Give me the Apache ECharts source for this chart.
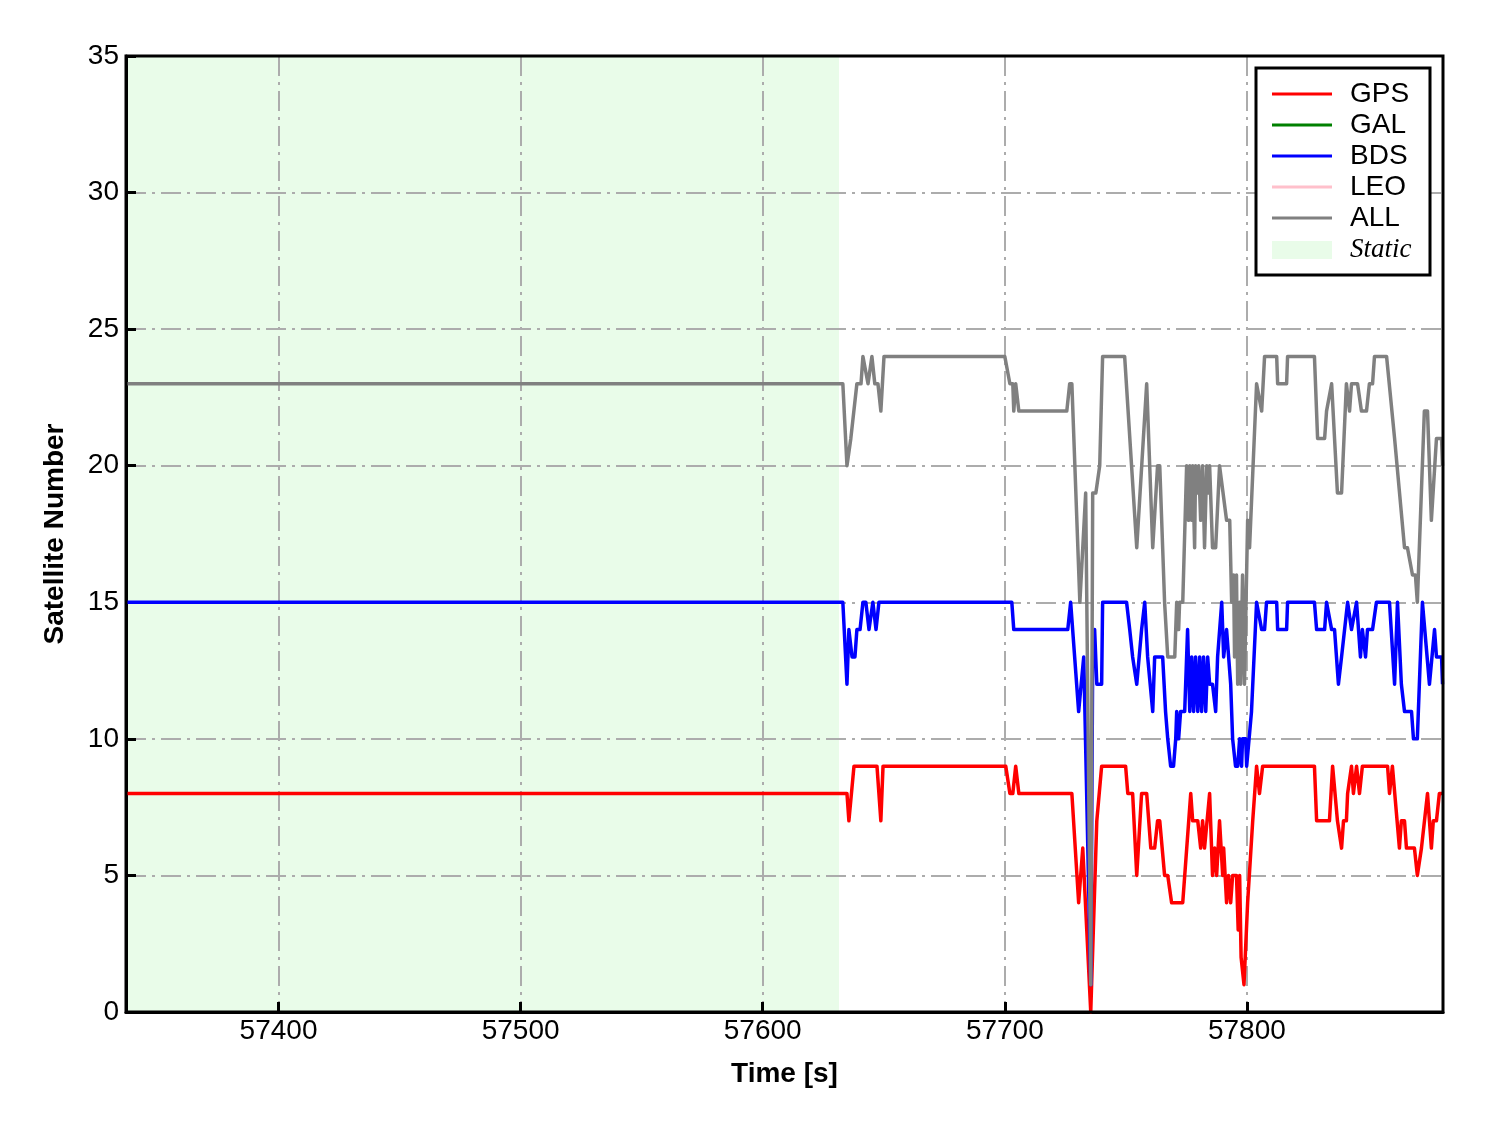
<!DOCTYPE html>
<html>
<head>
<meta charset="utf-8">
<script src="https://cdn.jsdelivr.net/npm/echarts@6/dist/echarts.min.js"></script>
<style>
html,body{margin:0;padding:0;background:#fff;}
#chart{width:1488px;height:1133px;}
</style>
</head>
<body>
<div id="chart"></div>
<script>
// ---- data: [time (s), satellite count] breakpoints ----
const timeMin = 57337;
const timeMax = 57881;
const staticEnd = 57631.5;
const yTicks = { min: 0, max: 35, step: 5 };

const gpsData = [[57337,8],[57634.8,8],[57635.6,7],[57637.7,9],[57647.2,9],[57648.8,7],[57649.7,9],[57700.4,9],[57702.1,8],[57703.3,8],[57704.5,9],[57705.8,8],[57727.7,8],[57730.5,4],[57732.2,6],[57735.5,0],[57738.0,7],[57740.0,9],[57749.9,9],[57750.8,8],[57752.8,8],[57754.5,5],[57756.5,8],[57758.6,8],[57760.3,6],[57761.9,6],[57763.1,7],[57764.0,7],[57766.0,5],[57767.3,5],[57768.9,4],[57773.5,4],[57776.8,8],[57777.6,7],[57779.7,7],[57780.9,6],[57781.7,7],[57782.5,6],[57784.6,8],[57785.8,5],[57786.7,6],[57787.5,5],[57788.7,7],[57790.0,5],[57790.4,6],[57791.6,4],[57792.4,5],[57793.3,4],[57794.1,5],[57795.7,5],[57796.4,3],[57797.0,5],[57797.6,2],[57798.8,1],[57800.3,4],[57802.4,7],[57804.0,9],[57805.2,8],[57806.5,9],[57827.9,9],[57828.8,7],[57834.1,7],[57835.4,9],[57837.4,7],[57839.1,6],[57839.9,7],[57841.1,7],[57841.6,8],[57843.2,9],[57844.0,8],[57845.3,9],[57846.5,8],[57847.7,9],[57858.1,9],[57858.9,8],[57860.1,9],[57863.0,6],[57863.8,7],[57865.1,7],[57865.9,6],[57869.2,6],[57870.4,5],[57872.1,6],[57874.6,8],[57876.2,6],[57877.0,7],[57878.3,7],[57879.5,8],[57880.8,8]];

const galData = [];

const bdsData = [[57337,15],[57633.1,15],[57634.8,12],[57635.6,14],[57636.9,13],[57638.1,13],[57638.9,14],[57640.2,14],[57641.4,15],[57642.6,15],[57643.9,14],[57644.7,14],[57645.5,15],[57646.8,14],[57648.0,15],[57702.9,15],[57703.7,14],[57726.0,14],[57727.2,15],[57730.5,11],[57732.6,13],[57735.5,1],[57736.3,13],[57737.1,14],[57738.0,12],[57740.0,12],[57740.4,15],[57750.3,15],[57751.6,14],[57752.8,13],[57753.2,13],[57754.5,12],[57756.5,14],[57757.8,15],[57759.0,13],[57761.1,11],[57761.9,13],[57765.2,13],[57766.4,11],[57767.3,10],[57768.5,9],[57769.7,9],[57770.6,10],[57771.0,11],[57771.8,10],[57772.6,11],[57774.3,11],[57775.5,14],[57776.4,11],[57777.2,13],[57778.0,11],[57778.8,13],[57779.7,11],[57780.5,13],[57781.3,11],[57782.1,13],[57783.0,11],[57783.8,13],[57784.6,12],[57785.8,12],[57787.1,11],[57787.9,13],[57789.6,15],[57790.4,13],[57791.6,14],[57793.3,12],[57794.1,10],[57795.3,9],[57796.2,9],[57797.0,10],[57797.8,9],[57798.2,10],[57799.5,10],[57799.9,9],[57801.9,11],[57804.0,15],[57806.1,14],[57807.3,14],[57808.1,15],[57812.3,15],[57812.7,14],[57816.4,14],[57816.8,15],[57827.9,15],[57828.8,14],[57832.1,14],[57832.9,15],[57835.0,14],[57836.2,14],[57837.8,12],[57839.1,13],[57839.9,13],[57841.6,15],[57843.2,14],[57843.6,14],[57845.3,15],[57846.9,13],[57847.7,14],[57849.0,13],[57849.8,14],[57851.9,14],[57853.5,15],[57858.9,15],[57861.0,12],[57862.2,15],[57863.8,12],[57865.1,11],[57868.0,11],[57868.8,10],[57870.4,10],[57872.5,15],[57875.4,12],[57877.5,14],[57878.3,13],[57880.4,13],[57880.8,12]];

const leoData = [];

const allData = [[57337,23],[57633.1,23],[57634.8,20],[57636.4,21],[57638.9,23],[57640.6,23],[57641.4,24],[57643.5,23],[57645.1,24],[57646.3,23],[57647.6,23],[57648.8,22],[57650.1,24],[57700.0,24],[57702.1,23],[57703.3,23],[57703.7,22],[57704.5,23],[57705.8,22],[57725.6,22],[57726.8,23],[57727.7,23],[57731.0,15],[57733.4,19],[57735.5,1],[57736.3,19],[57737.6,19],[57739.2,20],[57740.4,24],[57749.5,24],[57754.5,17],[57758.6,23],[57761.1,17],[57763.1,20],[57764.0,20],[57766.0,15],[57767.3,13],[57768.9,13],[57770.2,13],[57771.0,15],[57771.8,14],[57772.2,15],[57773.5,15],[57775.1,20],[57775.9,18],[57776.4,20],[57777.2,18],[57777.6,20],[57778.4,17],[57778.8,20],[57779.7,19],[57780.1,20],[57780.9,18],[57781.7,20],[57782.5,17],[57783.4,20],[57784.2,19],[57784.6,20],[57785.8,17],[57787.1,17],[57788.7,20],[57791.6,18],[57792.9,18],[57793.7,15],[57794.5,16],[57794.9,13],[57795.7,16],[57796.2,12],[57797.0,15],[57797.4,12],[57798.2,16],[57799.0,12],[57800.3,18],[57801.1,17],[57801.9,17],[57804.0,23],[57806.1,22],[57807.3,24],[57812.3,24],[57812.7,23],[57816.4,23],[57816.8,24],[57827.9,24],[57829.2,21],[57832.1,21],[57832.9,22],[57835.0,23],[57837.4,19],[57839.1,19],[57841.1,23],[57842.4,22],[57843.2,23],[57845.7,23],[57847.3,22],[57849.4,22],[57850.6,23],[57851.9,23],[57852.7,24],[57857.7,24],[57861.0,21],[57861.8,21],[57865.1,17],[57866.3,17],[57868.4,16],[57869.6,16],[57870.4,15],[57873.3,22],[57874.6,22],[57876.2,18],[57878.3,21],[57880.4,21],[57880.8,20]];

const seriesNames = ['GPS', 'GAL', 'BDS', 'LEO', 'ALL'];
const seriesColors = ['#ff0000', '#008000', '#0000ff', '#ffc0cb', '#808080'];
const seriesValues = [gpsData, galData, bdsData, leoData, allData];

const chart = echarts.init(document.getElementById('chart'), null, { renderer: 'canvas' });

const gridColor = '#acacac';
const dashDot = [20, 6, 3, 6];
const FONT = 'Liberation Sans, Arial, sans-serif';
const PLOT = { left: 126, top: 56, width: 1317, height: 956 };

const lineSeries = seriesNames.map((name, i) => ({
  name: name,
  type: 'line',
  data: seriesValues[i],
  symbol: 'none',
  z: 5,
  lineStyle: { color: seriesColors[i], width: 3.5, join: 'round' },
  itemStyle: { color: seriesColors[i] },
  animation: false
}));

const staticSeries = {
  name: 'Static',
  type: 'line',
  data: [],
  symbol: 'none',
  z: 1,
  itemStyle: { color: '#e9fce9' },
  markArea: {
    silent: true,
    z: 1,
    itemStyle: { color: '#e9fce9', borderWidth: 0 },
    data: [[{ xAxis: timeMin }, { xAxis: staticEnd }]]
  },
  animation: false
};

const option = {
  backgroundColor: '#ffffff',
  animation: false,
  grid: {
    left: PLOT.left, top: PLOT.top, width: PLOT.width, height: PLOT.height,
    show: false
  },
  xAxis: {
    type: 'value',
    min: timeMin,
    max: timeMax,
    z: 3,
    name: 'Time [s]',
    nameLocation: 'middle',
    nameGap: 48,
    nameTextStyle: { fontFamily: FONT, fontSize: 28, fontWeight: 'bold', color: '#000' },
    axisLine: { show: true, onZero: false, lineStyle: { color: '#000', width: 3 } },
    axisTick: { show: true, inside: true, length: 10, lineStyle: { color: '#000', width: 3 } },
    axisLabel: { fontFamily: FONT, fontSize: 28, color: '#000', margin: 5, showMinLabel: false, showMaxLabel: false,
      formatter: v => String(v) },
    splitLine: { show: true, lineStyle: { color: gridColor, width: 2, type: dashDot } }
  },
  yAxis: {
    type: 'value',
    min: yTicks.min,
    max: yTicks.max,
    interval: yTicks.step,
    z: 3,
    name: 'Satellite Number',
    nameLocation: 'middle',
    nameGap: 57,
    nameTextStyle: { fontFamily: FONT, fontSize: 28, fontWeight: 'bold', color: '#000' },
    axisLine: { show: true, onZero: false, lineStyle: { color: '#000', width: 3 } },
    axisTick: { show: true, inside: true, length: 10, lineStyle: { color: '#000', width: 3 } },
    axisLabel: { fontFamily: FONT, fontSize: 28, color: '#000', margin: 7 },
    splitLine: { show: true, lineStyle: { color: gridColor, width: 2, type: dashDot } }
  },
  legend: [
    {
      orient: 'vertical',
      left: 1267, top: 75,
      itemWidth: 60, itemHeight: 3,
      itemGap: 3,
      icon: 'rect',
      z: 8,
      data: seriesNames,
      selectedMode: false,
      textStyle: { fontFamily: FONT, fontSize: 28, lineHeight: 28, color: '#000', padding: [0, 0, 0, 13] }
    },
    {
      orient: 'vertical',
      left: 1267, top: 231,
      itemWidth: 60, itemHeight: 18,
      icon: 'rect',
      z: 8,
      selectedMode: false,
      data: [{ name: 'Static', icon: 'rect', itemStyle: { color: '#e9fce9' } }],
      textStyle: { fontFamily: 'Liberation Serif, Times New Roman, serif', fontStyle: 'italic', fontSize: 27, lineHeight: 28, color: '#000', padding: [0, 0, 0, 13] }
    }
  ],
  graphic: [
    {
      type: 'rect',
      z: 6,
      silent: true,
      shape: { x: PLOT.left, y: PLOT.top, width: PLOT.width, height: PLOT.height },
      style: { fill: 'none', stroke: '#000', lineWidth: 3 }
    },
    {
      type: 'rect',
      z: 7,
      shape: { x: 1256, y: 68, width: 174, height: 207 },
      style: { fill: '#ffffff', stroke: '#000', lineWidth: 3 }
    }
  ],
  series: [staticSeries].concat(lineSeries)
};

chart.setOption(option);
</script>
</body>
</html>
